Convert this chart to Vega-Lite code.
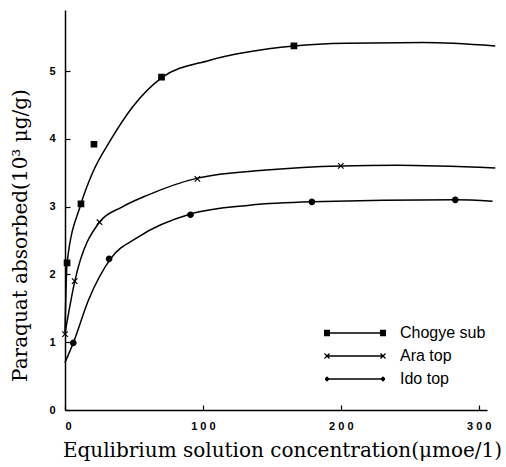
{
  "$schema": "https://vega.github.io/schema/vega-lite/v6.json",
  "width": 422,
  "height": 400,
  "autosize": {"type": "none"},
  "padding": {"left": 65, "top": 10, "right": 19, "bottom": 57},
  "background": "white",
  "config": {
    "view": {"stroke": null},
    "axis": {
      "grid": false,
      "domainColor": "black",
      "domainWidth": 1.5,
      "tickColor": "black",
      "tickWidth": 1.2,
      "tickSize": -5,
      "labelFont": "Liberation Sans",
      "labelFontWeight": "bold",
      "labelFontSize": 11,
      "labelColor": "black",
      "labelPadding": 15,
      "titleFont": "DejaVu Serif",
      "titleFontWeight": "normal",
      "titleFontSize": 20,
      "titleColor": "black"
    }
  },
  "resolve": {"scale": {"shape": "independent"}, "legend": {"shape": "independent"}},
  "datasets": {
    "curves": [
      {"series": "Chogye sub", "x": 0, "y": 1.15},
      {"series": "Chogye sub", "x": 1.5, "y": 2.17},
      {"series": "Chogye sub", "x": 11.6, "y": 3.04},
      {"series": "Chogye sub", "x": 20, "y": 3.5},
      {"series": "Chogye sub", "x": 33, "y": 3.98},
      {"series": "Chogye sub", "x": 49, "y": 4.47},
      {"series": "Chogye sub", "x": 70, "y": 4.9},
      {"series": "Chogye sub", "x": 105, "y": 5.16},
      {"series": "Chogye sub", "x": 166, "y": 5.37},
      {"series": "Chogye sub", "x": 204, "y": 5.41},
      {"series": "Chogye sub", "x": 260, "y": 5.42},
      {"series": "Chogye sub", "x": 312, "y": 5.37},
      {"series": "Ara top", "x": 0, "y": 1.13},
      {"series": "Ara top", "x": 7, "y": 1.89},
      {"series": "Ara top", "x": 25, "y": 2.77},
      {"series": "Ara top", "x": 41, "y": 2.99},
      {"series": "Ara top", "x": 60, "y": 3.17},
      {"series": "Ara top", "x": 96, "y": 3.42},
      {"series": "Ara top", "x": 146, "y": 3.54},
      {"series": "Ara top", "x": 200, "y": 3.6},
      {"series": "Ara top", "x": 240, "y": 3.61},
      {"series": "Ara top", "x": 312, "y": 3.57},
      {"series": "Ido top", "x": 0, "y": 0.7},
      {"series": "Ido top", "x": 6, "y": 0.99},
      {"series": "Ido top", "x": 17, "y": 1.62},
      {"series": "Ido top", "x": 33, "y": 2.23},
      {"series": "Ido top", "x": 53, "y": 2.55},
      {"series": "Ido top", "x": 91, "y": 2.89},
      {"series": "Ido top", "x": 134, "y": 3.02},
      {"series": "Ido top", "x": 179, "y": 3.07},
      {"series": "Ido top", "x": 283, "y": 3.1},
      {"series": "Ido top", "x": 310, "y": 3.08}
    ],
    "points": [
      {"series": "Chogye sub", "x": 1.5, "y": 2.17},
      {"series": "Chogye sub", "x": 11.6, "y": 3.04},
      {"series": "Chogye sub", "x": 21, "y": 3.92},
      {"series": "Chogye sub", "x": 70, "y": 4.91},
      {"series": "Chogye sub", "x": 166, "y": 5.37},
      {"series": "Ara top", "x": 0, "y": 1.12},
      {"series": "Ara top", "x": 7, "y": 1.9},
      {"series": "Ara top", "x": 25, "y": 2.77},
      {"series": "Ara top", "x": 96, "y": 3.41},
      {"series": "Ara top", "x": 200, "y": 3.6},
      {"series": "Ido top", "x": 6, "y": 0.99},
      {"series": "Ido top", "x": 32, "y": 2.23},
      {"series": "Ido top", "x": 91, "y": 2.88},
      {"series": "Ido top", "x": 179, "y": 3.07},
      {"series": "Ido top", "x": 283, "y": 3.1}
    ]
  },
  "layer": [
    {
      "data": {"name": "curves"},
      "mark": {"type": "line", "interpolate": "monotone", "color": "black", "strokeWidth": 1.5, "clip": false},
      "encoding": {
        "x": {
          "field": "x", "type": "quantitative",
          "scale": {"domain": [0, 306], "nice": false, "zero": false},
          "axis": {
            "values": [0, 100, 200, 300],
            "labelExpr": "join(split(datum.label, ''), ' ')",
            "title": "Equlibrium solution concentration(μmoe/1)",
            "titleX": 217,
            "titleY": 40,
            "titleBaseline": "middle",
            "titleAlign": "center"
          }
        },
        "y": {
          "field": "y", "type": "quantitative",
          "scale": {"domain": [0, 5.9], "nice": false},
          "axis": {
            "values": [0, 1, 2, 3, 4, 5],
            "format": "d",
            "title": "Paraquat absorbed(10³ μg/g)",
            "titleX": -45,
            "titleY": 225,
            "titleBaseline": "middle",
            "titleAlign": "center",
            "titleAngle": -90
          }
        },
        "detail": {"field": "series"}
      }
    },
    {
      "data": {"name": "points"},
      "mark": {"type": "point", "filled": true, "fill": "black", "stroke": "black", "strokeWidth": 1.2, "opacity": 1, "size": 30, "clip": false},
      "encoding": {
        "x": {"field": "x", "type": "quantitative"},
        "y": {"field": "y", "type": "quantitative"},
        "shape": {
          "field": "series", "type": "nominal",
          "scale": {
            "domain": ["Chogye sub", "Ara top", "Ido top"],
            "range": ["square", "M-1,-1L1,1M-1,1L1,-1", "circle"]
          },
          "legend": null
        }
      }
    },
    {
      "data": {"name": "points"},
      "mark": {"type": "point", "filled": false, "color": "black", "strokeWidth": 1.3, "opacity": 0, "size": 100, "clip": false},
      "encoding": {
        "x": {"field": "x", "type": "quantitative"},
        "y": {"field": "y", "type": "quantitative"},
        "shape": {
          "field": "series", "type": "nominal",
          "scale": {
            "domain": ["Chogye sub", "Ara top", "Ido top"],
            "range": [
              "M-5.6,0H5.6M-6.2,-0.5H-5M-6.2,-0.25H-5M-6.2,0H-5M-6.2,0.25H-5M-6.2,0.5H-5M5,-0.5H6.2M5,-0.25H6.2M5,0H6.2M5,0.25H6.2M5,0.5H6.2",
              "M-5.6,0H5.6M-6.1,-0.5L-5.1,0.5M-6.1,0.5L-5.1,-0.5M5.1,-0.5L6.1,0.5M5.1,0.5L6.1,-0.5",
              "M-5.6,0H5.6M-5.8,-0.3H-5.4M-6,-0.1H-5.2M-6,0.1H-5.2M-5.8,0.3H-5.4M5.4,-0.3H5.8M5.2,-0.1H6M5.2,0.1H6M5.4,0.3H5.8"
            ]
          },
          "legend": {
            "title": null,
            "orient": "none",
            "legendX": 282,
            "legendY": 315,
            "symbolSize": 100,
            "symbolOpacity": 1,
            "symbolStrokeColor": "black",
            "symbolStrokeWidth": 1.3,
            "labelOffset": 37,
            "labelFont": "Liberation Sans",
            "labelFontSize": 16,
            "labelColor": "black",
            "rowPadding": 7
          }
        }
      }
    }
  ]
}
